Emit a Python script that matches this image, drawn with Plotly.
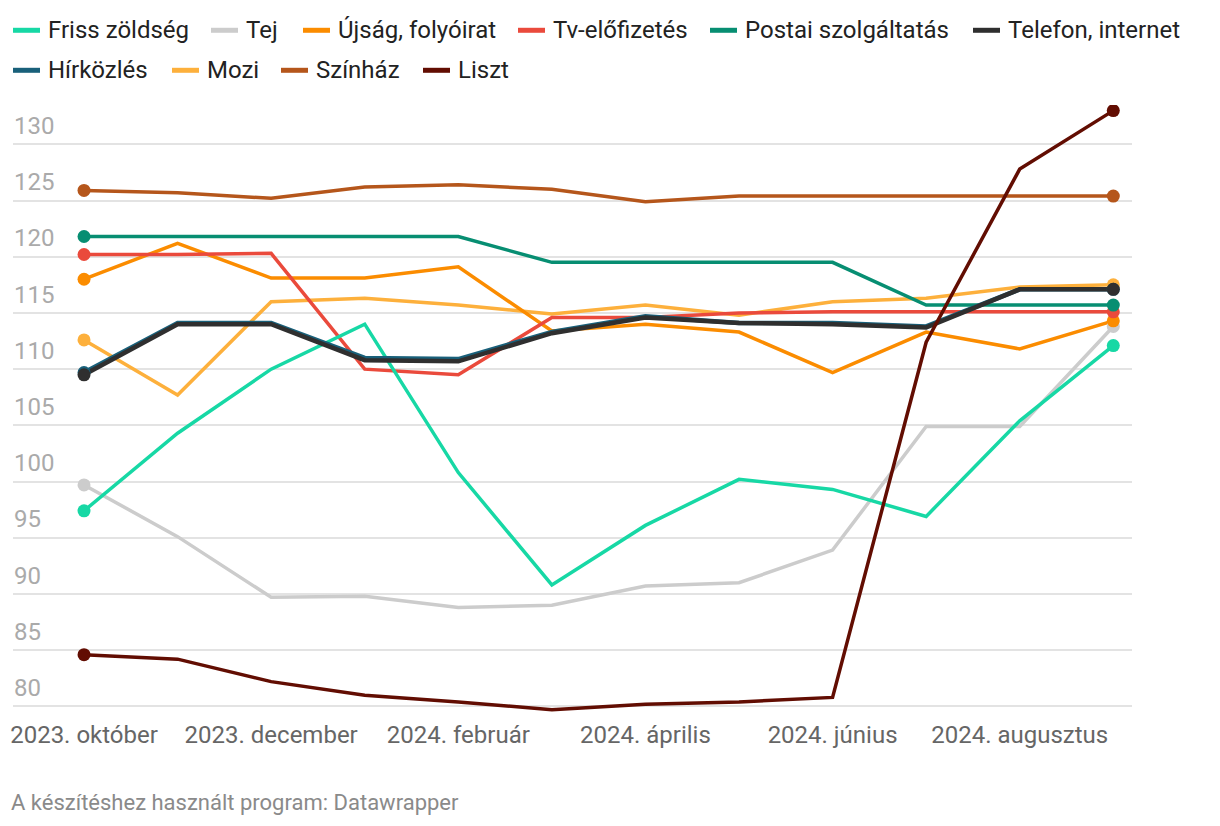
import plotly.graph_objects as go

months = ["2023. október", "2023. november", "2023. december", "2024. január",
          "2024. február", "2024. március", "2024. április", "2024. május",
          "2024. június", "2024. július", "2024. augusztus", "2024. szeptember"]
tick_months = ["2023. október", "2023. december", "2024. február",
               "2024. április", "2024. június", "2024. augusztus"]

friss_zoldseg = [97.4, 104.3, 110.0, 114.0, 100.8, 90.8, 96.1, 100.2, 99.3, 96.9, 105.4, 112.1]
tej = [99.7, 95.1, 89.7, 89.8, 88.8, 89.0, 90.7, 91.0, 93.9, 104.9, 104.9, 113.8]
ujsag = [118.0, 121.2, 118.1, 118.1, 119.1, 113.4, 114.0, 113.3, 109.7, 113.3, 111.8, 114.3]
tv = [120.2, 120.2, 120.3, 110.0, 109.5, 114.6, 114.6, 115.0, 115.1, 115.1, 115.1, 115.1]
postai = [121.8, 121.8, 121.8, 121.8, 121.8, 119.5, 119.5, 119.5, 119.5, 115.7, 115.7, 115.7]
telefon = [109.5, 114.0, 114.0, 110.8, 110.7, 113.2, 114.6, 114.1, 114.0, 113.7, 117.1, 117.1]
hirkozles = [109.7, 114.1, 114.1, 111.0, 110.9, 113.3, 114.7, 114.1, 114.1, 113.8, 117.1, 117.1]
mozi = [112.6, 107.7, 116.0, 116.3, 115.7, 114.9, 115.7, 114.8, 116.0, 116.3, 117.3, 117.5]
szinhaz = [125.9, 125.7, 125.2, 126.2, 126.4, 126.0, 124.9, 125.4, 125.4, 125.4, 125.4, 125.4]
liszt = [84.6, 84.2, 82.2, 81.0, 80.4, 79.7, 80.2, 80.4, 80.8, 112.4, 127.8, 133.0]

series = [
    ("Friss zöldség", friss_zoldseg, "#17d8a5", 3.5),
    ("Tej", tej, "#cccccc", 3.5),
    ("Újság, folyóirat", ujsag, "#fb8c00", 3.5),
    ("Tv-előfizetés", tv, "#ea4a3c", 3.5),
    ("Postai szolgáltatás", postai, "#078e72", 3.5),
    ("Telefon, internet", telefon, "#2f2f2f", 4.5),
    ("Hírközlés", hirkozles, "#19607a", 4.5),
    ("Mozi", mozi, "#fdb03c", 3.5),
    ("Színház", szinhaz, "#b5561b", 3.5),
    ("Liszt", liszt, "#620d02", 3.5),
]
draw_order = ["Tej", "Mozi", "Újság, folyóirat", "Tv-előfizetés", "Friss zöldség",
              "Postai szolgáltatás", "Hírközlés", "Telefon, internet", "Színház", "Liszt"]

OFF = 8  # page body margin
W, H = 1220 - OFF, 826 - OFF
PL, PR = 13 - OFF, 1132 - OFF
PT, PB = 104.7 - OFF, 711.6 - OFF

fig = go.Figure()
lookup = {s[0]: s for s in series}
for name in draw_order:
    _, vals, col, lw = lookup[name]
    fig.add_trace(go.Scatter(
        x=months, y=vals, name=name, mode="lines",
        line=dict(color=col, width=lw),
        showlegend=False, hoverinfo="skip",
    ))
for name in draw_order:
    _, vals, col, lw = lookup[name]
    fig.add_trace(go.Scatter(
        x=[months[0], months[-1]], y=[vals[0], vals[-1]], mode="markers",
        marker=dict(size=13, color=col, opacity=1, line=dict(width=0)),
        showlegend=False, hoverinfo="skip",
    ))

# manual legend (Datawrapper style), positions in page pixels
legend_pos = [
    ("Friss zöldség", 48, 30), ("Tej", 246, 30), ("Újság, folyóirat", 338, 30),
    ("Tv-előfizetés", 553, 30), ("Postai szolgáltatás", 745, 30), ("Telefon, internet", 1008, 30),
    ("Hírközlés", 48, 70), ("Mozi", 207, 70), ("Színház", 316, 70), ("Liszt", 458, 70),
]

def px2x(px):
    return (px - OFF - PL) / (PR - PL)

def px2y(py):
    return (PB - (py - OFF)) / (PB - PT)

shapes = []
annotations = []
for name, tx, ty in legend_pos:
    col = lookup[name][2]
    shapes.append(dict(type="line", xref="paper", yref="paper",
                       x0=px2x(tx - 35), x1=px2x(tx - 8), y0=px2y(ty), y1=px2y(ty),
                       line=dict(color=col, width=5)))
    annotations.append(dict(text=name, xref="paper", yref="paper",
                            x=px2x(tx - 2), y=px2y(ty), xanchor="left", yanchor="middle",
                            showarrow=False, font=dict(size=24, color="#222222")))

annotations.append(dict(text="A készítéshez használt program: Datawrapper",
                        xref="paper", yref="paper", x=px2x(9), y=px2y(802),
                        xanchor="left", yanchor="middle", showarrow=False,
                        font=dict(size=22, color="#8a8a8a")))

fig.update_layout(
    width=W, height=H,
    margin=dict(l=PL, r=W - PR, t=PT, b=H - PB, pad=0, autoexpand=False),
    paper_bgcolor="white", plot_bgcolor="white",
    font=dict(family="Roboto", size=24, color="#222222"),
    shapes=shapes, annotations=annotations,
    showlegend=False,
)
fig.update_xaxes(
    type="category", categoryorder="array", categoryarray=months,
    range=[-0.759, 11.2], tickvals=tick_months, ticktext=tick_months,
    showgrid=False, zeroline=False, showline=False, ticks="", automargin=False,
    tickfont=dict(size=24, color="#666666"), ticklabelstandoff=6,
)
fig.update_yaxes(
    range=[79.5, 133.5], tickvals=list(range(80, 131, 5)), automargin=False,
    ticklabelposition="inside top", showgrid=True, gridcolor="#e3e3e3", gridwidth=1.5,
    zeroline=False, showline=False, ticks="",
    tickfont=dict(size=24, color="#aaaaaa"), ticklabelstandoff=-2, ticklabelshift=-2,
)

fig.write_html("out.html")
